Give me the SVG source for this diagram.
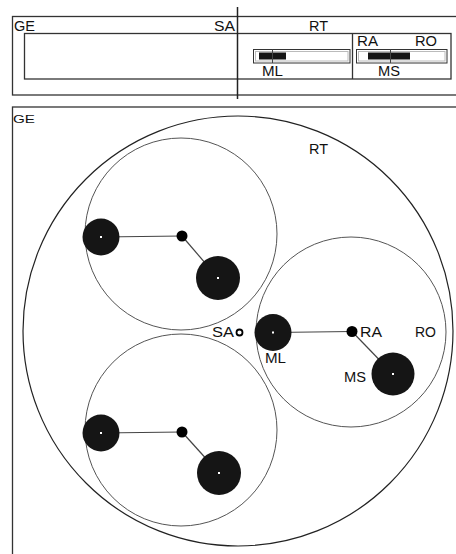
<svg xmlns="http://www.w3.org/2000/svg" width="456" height="554" viewBox="0 0 456 554">
<defs>
<style>
.t{font-family:"Liberation Sans",Arial,sans-serif;font-size:14px;fill:#111}
.frame{fill:none;stroke:#333;stroke-width:1.3}
.orb{fill:none;stroke:#555;stroke-width:1}
.big{fill:#151515}
.dot{fill:#fff}
.hub{fill:#000}
.link{stroke:#444;stroke-width:1.2;fill:none}
.bar{fill:#fff;stroke:#333;stroke-width:1}
.bari{fill:none;stroke:#bbb;stroke-width:1}
.barf{fill:#151515}
</style>
</defs>
<rect width="456" height="554" fill="#fff"/>

<g id="top-panel">
<rect class="frame" x="12.5" y="16.5" width="460" height="78.5"/>
<rect class="frame" x="24.5" y="33.5" width="426.5" height="45.5"/>
<line class="frame" x1="352.5" y1="33.5" x2="352.5" y2="79"/>
<line x1="237.5" y1="7" x2="237.5" y2="99" stroke="#222" stroke-width="1.5"/>
<text class="t" x="14" y="31" textLength="21" lengthAdjust="spacingAndGlyphs">GE</text>
<text class="t" x="214" y="31" textLength="21" lengthAdjust="spacingAndGlyphs">SA</text>
<text class="t" x="309" y="31" textLength="19" lengthAdjust="spacingAndGlyphs">RT</text>
<text class="t" x="357" y="46" textLength="21" lengthAdjust="spacingAndGlyphs">RA</text>
<text class="t" x="415" y="46" textLength="22" lengthAdjust="spacingAndGlyphs">RO</text>
<text class="t" x="262" y="76" textLength="21" lengthAdjust="spacingAndGlyphs">ML</text>
<text class="t" x="378" y="76" textLength="22" lengthAdjust="spacingAndGlyphs">MS</text>
<g id="bar-ml">
<rect class="bar" x="253.5" y="49.5" width="96.5" height="13.5"/>
<rect class="bari" x="255.5" y="51.5" width="92.5" height="9.5"/>
<rect class="barf" x="259" y="52.5" width="27" height="7"/>
<line x1="272.5" y1="49.5" x2="272.5" y2="63" stroke="#444"/>
</g>
<g id="bar-ms">
<rect class="bar" x="356.5" y="49.5" width="90.5" height="13.5"/>
<rect class="bari" x="358.5" y="51.5" width="86.5" height="9.5"/>
<rect class="barf" x="368" y="52.5" width="42" height="7"/>
<line x1="390.5" y1="49.5" x2="390.5" y2="63" stroke="#444"/>
</g>
</g>

<g id="bottom-panel">
<rect class="frame" x="12.5" y="107" width="460" height="460"/>
<text x="13" y="123" font-family="'Liberation Sans',Arial,sans-serif" font-size="11.5" fill="#111" textLength="22" lengthAdjust="spacingAndGlyphs">GE</text>
</g>

<g id="RT">
<circle cx="238" cy="331" r="215" fill="none" stroke="#222" stroke-width="1.2"/>
<text class="t" x="309" y="154" textLength="19" lengthAdjust="spacingAndGlyphs">RT</text>
</g>

<g id="orbit-tl"><circle class="orb" cx="181" cy="234" r="96"/></g>
<g id="RO">
<circle class="orb" cx="351" cy="332" r="95"/>
<text class="t" x="415" y="337" textLength="21" lengthAdjust="spacingAndGlyphs">RO</text>
</g>
<g id="orbit-bl"><circle class="orb" cx="181" cy="430" r="96"/></g>

<g id="connectors">
<line class="link" x1="101" y1="237" x2="182" y2="236"/>
<line class="link" x1="182" y1="236" x2="218" y2="278"/>
<line class="link" x1="273" y1="332.5" x2="352" y2="331.5"/>
<line class="link" x1="352" y1="331.5" x2="393" y2="374"/>
<line class="link" x1="101" y1="433" x2="182" y2="432"/>
<line class="link" x1="182" y1="432" x2="219" y2="473"/>
</g>

<g id="tl-group">
<g id="tl-a"><circle class="big" cx="101" cy="237" r="18.5"/><rect class="dot" x="100" y="236" width="2" height="2"/></g>
<g id="tl-hub"><circle class="hub" cx="182" cy="236" r="5.5"/></g>
<g id="tl-b"><circle class="big" cx="218" cy="278" r="22"/><rect class="dot" x="217" y="277" width="2" height="2"/></g>
</g>

<g id="SA">
<circle cx="239.5" cy="332.5" r="3" fill="#fff" stroke="#000" stroke-width="1.8"/>
<text class="t" x="212" y="337" textLength="22" lengthAdjust="spacingAndGlyphs">SA</text>
</g>
<g id="ML">
<circle class="big" cx="273" cy="332.5" r="18.5"/><rect class="dot" x="272" y="331.5" width="2" height="2"/>
<text class="t" x="265" y="363" textLength="21" lengthAdjust="spacingAndGlyphs">ML</text>
</g>
<g id="RA">
<circle class="hub" cx="352" cy="331.5" r="5.5"/>
<text class="t" x="360" y="337" textLength="22" lengthAdjust="spacingAndGlyphs">RA</text>
</g>
<g id="MS">
<circle class="big" cx="393" cy="374" r="21.5"/><rect class="dot" x="392" y="373" width="2" height="2"/>
<text class="t" x="344" y="382" textLength="22" lengthAdjust="spacingAndGlyphs">MS</text>
</g>

<g id="bl-group">
<g id="bl-a"><circle class="big" cx="101" cy="433" r="18.5"/><rect class="dot" x="100" y="432" width="2" height="2"/></g>
<g id="bl-hub"><circle class="hub" cx="182" cy="432" r="5.5"/></g>
<g id="bl-b"><circle class="big" cx="219" cy="473" r="22"/><rect class="dot" x="218" y="472" width="2" height="2"/></g>
</g>
</svg>
